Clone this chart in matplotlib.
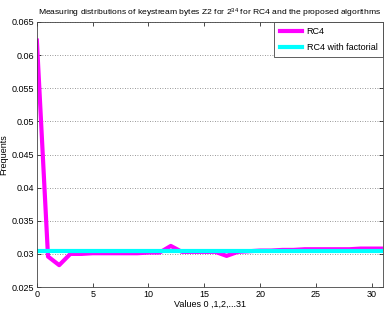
import matplotlib
matplotlib.use("Agg")
import matplotlib.pyplot as plt

plt.rcParams['font.family'] = ['Liberation Sans', 'DejaVu Sans']

x_values = list(range(32))
rc4 = [0.0622, 0.0296, 0.0283, 0.0300, 0.0300, 0.0301, 0.0301, 0.0301, 0.0301,
       0.0301, 0.0302, 0.0302, 0.0312, 0.0303, 0.0303, 0.0303, 0.0303, 0.0297,
       0.0303, 0.0304, 0.0305, 0.0305, 0.0306, 0.0306, 0.0307, 0.0307, 0.0307,
       0.0307, 0.0307, 0.0308, 0.0308, 0.0308]
rc4_factorial = [0.0305] * 32

fig = plt.figure(figsize=(3.84, 3.17), dpi=100)
ax = fig.add_axes([0.096, 0.0946, 0.901, 0.836])
ax.plot(x_values, rc4, color='#ff00ff', lw=3, label='RC4')
ax.plot(x_values, rc4_factorial, color='#00ffff', lw=3, label='RC4 with factorial')
ax.set_xlim(0, 31)
ax.set_ylim(0.025, 0.065)
ax.set_xticks([0, 5, 10, 15, 20, 25, 30])
ax.set_yticks([0.025, 0.03, 0.035, 0.04, 0.045, 0.05, 0.055, 0.06, 0.065])
ax.set_yticklabels(['0.025', '0.03', '0.035', '0.04', '0.045', '0.05', '0.055', '0.06', '0.065'])
ax.tick_params(direction='in', top=True, right=True, labelsize=6.5, length=3, width=0.5, pad=2)
ax.yaxis.grid(True, linestyle=(0, (1, 2)), color='#777777', lw=0.6)
for s in ax.spines.values():
    s.set_linewidth(0.6)
    s.set_color('#444444')
ax.set_title(r'Measuring distributions of keystream bytes Z2 for $\mathregular{2^{34}}$ for RC4 and the proposed algorithms',
             fontsize=6.1, pad=5)
ax.set_xlabel('Values 0 ,1,2,...31', fontsize=6.5, labelpad=1)
ax.set_ylabel('Frequents', fontsize=6.5, labelpad=2)
leg = ax.legend(loc='upper right', fontsize=6.5, fancybox=False, framealpha=1,
                edgecolor='#444444', borderaxespad=0, handlelength=2.5, borderpad=0.6,
                labelspacing=0.7, handletextpad=0.5)
leg.get_frame().set_linewidth(0.6)
fig.savefig('out.png', dpi=100)
